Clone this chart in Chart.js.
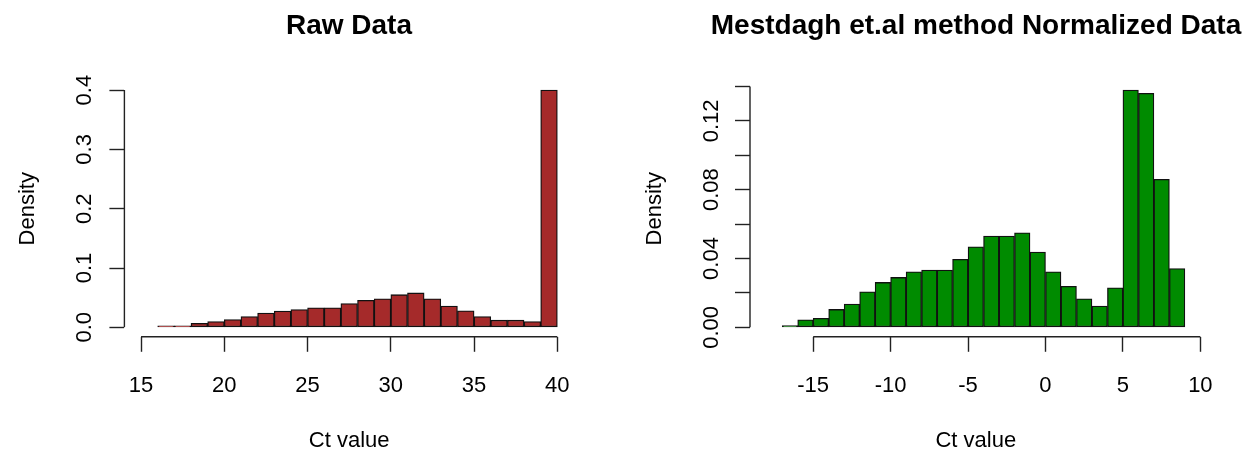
<!DOCTYPE html>
<html>
<head>
<meta charset="utf-8">
<script src="https://cdn.jsdelivr.net/npm/chart.js@4"></script>
<style>
  html, body { margin: 0; background: #fff; overflow: hidden; width: 1255px; height: 455px; }
  canvas { position: absolute; top: 0; }
  #rawChart { left: 0; }
  #normChart { left: 627px; }
</style>
</head>
<body>
<canvas id="rawChart" width="698" height="455"></canvas>
<canvas id="normChart" width="698" height="455"></canvas>
<script>
// raw Ct histogram: bin midpoints (bin width 1) and density
const rawBins = [15.5, 16.5, 17.5, 18.5, 19.5, 20.5, 21.5, 22.5, 23.5, 24.5, 25.5, 26.5, 27.5,
    28.5, 29.5, 30.5, 31.5, 32.5, 33.5, 34.5, 35.5, 36.5, 37.5, 38.5, 39.5];
const rawDensity = [0, 0.0025, 0.0025, 0.0067, 0.0096, 0.013, 0.018, 0.024, 0.0275, 0.030, 0.033, 0.033, 0.040,
    0.0455, 0.048, 0.055, 0.058, 0.048, 0.036, 0.028, 0.018, 0.012, 0.012, 0.0096, 0.400];
const rawXTicks = [15, 20, 25, 30, 35, 40];
const rawYTicks = [0, 0.1, 0.2, 0.3, 0.4];
const rawYLabels = ["0.0", "0.1", "0.2", "0.3", "0.4"];

// normalized histogram
const normBins = [-17.5, -16.5, -15.5, -14.5, -13.5, -12.5, -11.5, -10.5, -9.5, -8.5, -7.5, -6.5, -5.5, -4.5,
    -3.5, -2.5, -1.5, -0.5, 0.5, 1.5, 2.5, 3.5, 4.5, 5.5, 6.5, 7.5, 8.5];
const normDensity = [0, 0.001, 0.0044, 0.0052, 0.0104, 0.0135, 0.0207, 0.0261, 0.029, 0.0323, 0.0333, 0.0333, 0.0395, 0.0468,
    0.053, 0.053, 0.0549, 0.0437, 0.0323, 0.0238, 0.0166, 0.0124, 0.023, 0.1379, 0.136, 0.086, 0.0342];
const normXTicks = [-15, -10, -5, 0, 5, 10];
const normYTicks = [0, 0.02, 0.04, 0.06, 0.08, 0.10, 0.12, 0.14];
const normYLabels = ["0.00", "", "0.04", "", "0.08", "", "0.12", ""];

Chart.defaults.font.family = "'Liberation Sans', Arial, sans-serif";
Chart.defaults.color = "#000";

// R style axis lines, only from first to last tick
const axisLines = {
    id: 'axisLines',
    afterDraw(chart) {
        const ctx = chart.ctx;
        const xs = chart.scales.x, ys = chart.scales.y;
        const area = chart.chartArea;
        const xt = xs.ticks, yt = ys.ticks;
        ctx.save();
        ctx.strokeStyle = '#222';
        ctx.lineWidth = 1.4;
        ctx.beginPath();
        ctx.moveTo(xs.getPixelForValue(xt[0].value), area.bottom);
        ctx.lineTo(xs.getPixelForValue(xt[xt.length - 1].value), area.bottom);
        ctx.moveTo(area.left, ys.getPixelForValue(yt[0].value));
        ctx.lineTo(area.left, ys.getPixelForValue(yt[yt.length - 1].value));
        ctx.stroke();
        ctx.restore();
    }
};

function makeHist(id, opts) {
    const ctx = document.getElementById(id).getContext('2d');
    return new Chart(ctx, {
        type: 'bar',
        data: {
            datasets: [{
                data: opts.bins.map((b, i) => ({ x: b, y: opts.density[i] })),
                backgroundColor: opts.color,
                borderColor: '#111',
                borderWidth: 1.3,
                borderSkipped: false,
                barPercentage: 1,
                categoryPercentage: 1
            }]
        },
        options: {
            responsive: false,
            animation: false,
            layout: { padding: 0 },
            plugins: {
                legend: { display: false },
                tooltip: { enabled: false },
                title: {
                    display: true,
                    text: opts.title,
                    color: '#000',
                    font: { size: 28, weight: 'bold' },
                    padding: { top: 9.2, bottom: 37.8 }
                }
            },
            scales: {
                x: {
                    type: 'linear',
                    offset: false,
                    min: opts.xMin,
                    max: opts.xMax,
                    afterBuildTicks: s => { s.ticks = opts.xTicks.map(v => ({ value: v })); },
                    afterFit: s => { s.height = 118.2; },
                    grid: { offset: false, drawOnChartArea: false, drawTicks: true, tickLength: 15, tickColor: '#222', tickWidth: 1.4 },
                    border: { display: false },
                    ticks: { font: { size: 22 }, padding: 21, autoSkip: false, maxRotation: 0, callback: v => String(v) },
                    title: { display: true, text: 'Ct value', font: { size: 22 }, padding: { top: 0, bottom: 0.8 } }
                },
                y: {
                    min: opts.yMin,
                    max: opts.yMax,
                    afterBuildTicks: s => { s.ticks = opts.yTicks.map(v => ({ value: v })); },
                    afterFit: s => { s.width = opts.yWidth; },
                    grid: { drawOnChartArea: false, drawTicks: true, tickLength: 15, tickColor: '#222', tickWidth: 1.4 },
                    border: { display: false },
                    ticks: {
                        font: { size: 22 }, padding: opts.yPad, autoSkip: false, minRotation: 90, maxRotation: 90, crossAlign: 'center',
                        callback: (v, i) => opts.yLabels[i]
                    },
                    title: { display: true, text: 'Density', font: { size: 22 }, padding: { top: 15, bottom: 0 } }
                },
                // empty right margin so the title centres over the plot region
                margin: {
                    position: 'right',
                    type: 'linear',
                    afterFit: s => { s.width = opts.padRight; },
                    grid: { display: false },
                    border: { display: false },
                    ticks: { display: false }
                }
            }
        },
        plugins: [axisLines]
    });
}

makeHist('rawChart', {
    bins: rawBins, density: rawDensity, color: '#A52A2A', title: 'Raw Data',
    xMin: 14, xMax: 41, xTicks: rawXTicks,
    yMin: -0.016, yMax: 0.416, yTicks: rawYTicks, yLabels: rawYLabels,
    yWidth: 124.4, yPad: 9.6, padRight: 124
});

makeHist('normChart', {
    bins: normBins, density: normDensity, color: '#008B00', title: 'Mestdagh et.al method Normalized Data',
    xMin: -19.08, xMax: 10.08, xTicks: normXTicks,
    yMin: -0.0055, yMax: 0.1434, yTicks: normYTicks, yLabels: normYLabels,
    yWidth: 123, yPad: 2.1, padRight: 123.4
});
</script>
</body>
</html>
